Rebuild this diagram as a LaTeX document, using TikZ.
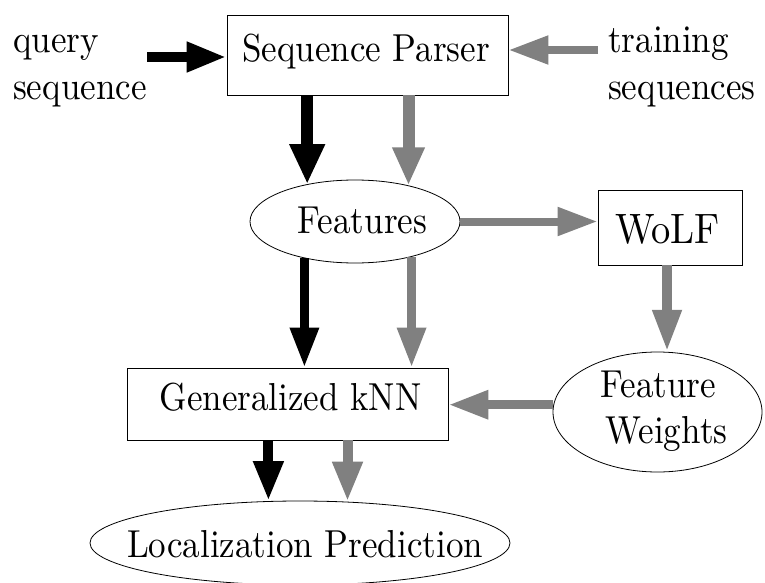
\documentclass[tikz,border=0pt]{standalone}
\usepackage{graphicx}
\usetikzlibrary{shapes.geometric,arrows.meta}
\newcommand\vstr[1]{\scalebox{3.5}[3.9]{\rmfamily\fontsize{10}{12}\selectfont #1}}
\newcommand\bigstr[1]{\scalebox{3.85}[4.25]{\rmfamily\fontsize{10}{12}\selectfont #1}}
\begin{document}
\begin{tikzpicture}[x=1pt,y=-1pt,
  box/.style={draw, line width=0.8pt, rectangle, inner sep=0pt},
  oval/.style={draw, line width=0.8pt, ellipse, inner sep=0pt},
  lbl/.style={inner sep=0pt},
  blk/.style={line width=10pt, draw=black, -{Triangle[width=28pt,length=40pt]}},
  gry/.style={line width=9pt, draw=gray, -{Triangle[width=27pt,length=40pt]}},
  bigblk/.style={line width=12pt, draw=black, -{Triangle[width=33pt,length=40pt]}},
  biggry/.style={line width=12pt, draw=gray, -{Triangle[width=30pt,length=38pt]}}
]
\useasboundingbox (0,0) rectangle (765,583);

% shapes
\node[box, minimum width=281pt, minimum height=80pt] (parser) at (367.5,55) {};
\node[oval, minimum width=210pt, minimum height=83pt] (feat) at (355,221.5) {};
\node[box, minimum width=144pt, minimum height=75pt] (wolf) at (670,227.5) {};
\node[oval, minimum width=209pt, minimum height=120pt] (fw) at (657.5,412) {};
\node[box, minimum width=321pt, minimum height=72pt] (knn) at (287.5,404) {};
\node[oval, minimum width=420pt, minimum height=84pt] (loc) at (300,543) {};

% texts
\node[lbl, anchor=base west] (q1) at (13,53) {\vstr{query}};
\node[lbl, anchor=base west] (q2) at (13,100) {\vstr{sequence}};
\node[lbl, anchor=base west] (t1) at (608,53) {\vstr{training}};
\node[lbl, anchor=base west] (t2) at (608,100) {\vstr{sequences}};
\node[lbl, anchor=base] (parserT) at (366,62) {\vstr{Sequence Parser}};
\node[lbl, anchor=base] (featT) at (362.5,233) {\vstr{Features}};
\node[lbl, anchor=base] (wolfT) at (667.5,243) {\bigstr{WoLF}};
\node[lbl, anchor=base] (fwT1) at (658.5,397) {\vstr{Feature}};
\node[lbl, anchor=base] (fwT2) at (666.5,443) {\vstr{Weights}};
\node[lbl, anchor=base] (knnT) at (290.5,410) {\vstr{Generalized kNN}};
\node[lbl, anchor=base] (locT) at (305,557) {\vstr{Localization Prediction}};

% free ends
\coordinate (qa) at (147,57);
\coordinate (ta) at (598,50);

% connectors
\draw[blk] (qa) -- (qa -| parser.west);
\draw[gry, line width=8pt] (ta) -- (ta -| parser.east);
\draw[bigblk] (feat.142.4 |- parser.south) -- (feat.142.4);
\draw[biggry] (feat.34 |- parser.south) -- (feat.34);
\draw[gry, line width=8pt] (feat.east) -- (feat.east -| wolf.west);
\draw[blk, line width=9pt, -{Triangle[width=27pt,length=40pt]}] (feat.216.1) -- (feat.216.1 |- knn.north);
\draw[gry] (feat.328.56) -- (feat.328.56 |- knn.north);
\draw[gry, line width=10pt, -{Triangle[width=27pt,length=42pt]}] (fw.81 |- wolf.south) -- (fw.81);
\draw[gry] (fw.176.1) -- (fw.176.1 -| knn.east);
\draw[blk] (loc.127.6 |- knn.south) -- (loc.127.6);
\draw[gry, line width=10pt, -{Triangle[width=28pt,length=40pt]}] (loc.41.03 |- knn.south) -- (loc.41.03);
\end{tikzpicture}
\end{document}
